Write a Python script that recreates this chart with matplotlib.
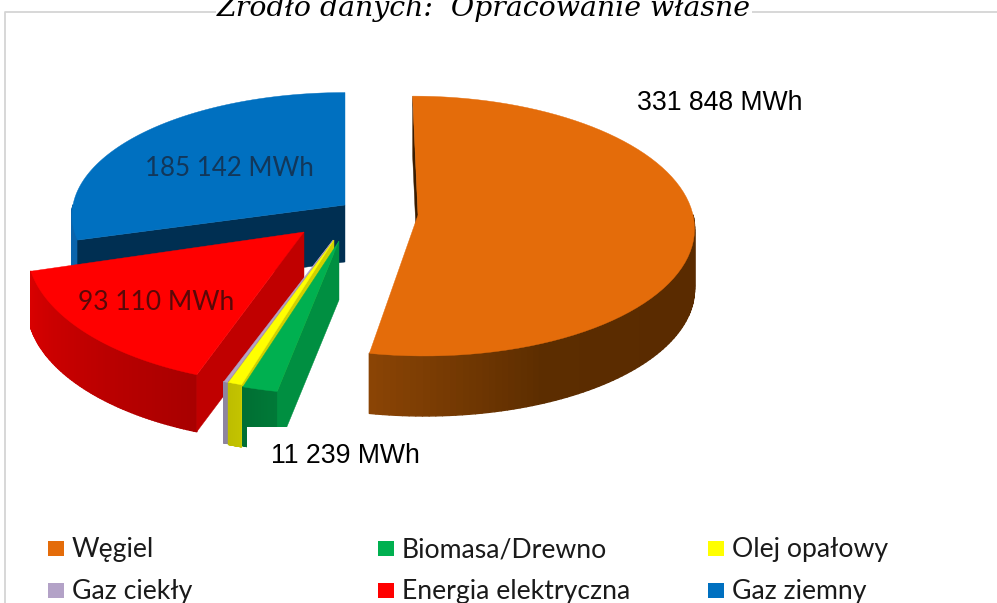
import numpy as np
import matplotlib
matplotlib.use('Agg')
import matplotlib.pyplot as plt
from matplotlib.colors import to_rgb
from matplotlib.patches import Polygon, Rectangle
from matplotlib.collections import PolyCollection

## data, clockwise from the top of the pie
names = ['Węgiel', 'Biomasa/Drewno', 'Olej opałowy', 'Gaz ciekły', 'Energia elektryczna', 'Gaz ziemny']
values = [331848, 11239, 4400, 1250, 93110, 185142]
title = 'Źródło danych:  Opracowanie własne'
value_labels = ['331 848 MWh', '11 239 MWh', '93 110 MWh', '185 142 MWh']

## styles
top_colors = ['#E46C0A', '#00B050', '#FFFF00', '#B3A2C7', '#FF0000', '#0070C0']
cut_colors = ['#3A1C00', '#008F41', '#D0D000', '#8E84A0', '#C00000', '#002F52']
wall_colors = [['#5A2B00', '#5A2B00', '#5C2D00', '#8A4405'], ['#007A38', '#006F33'], ['#C4C400', '#BEBE00'],
               ['#8E84A0', '#8E84A0'], ['#A80000', '#D80000'], ['#0A64AC', '#0A64AC']]
## apex x, apex y, radius x, radius y, perspective, lean, depth
shapes = [(418, 215, 275, 129, 0.085, 0.045, 60),
          (339, 241, 280, 135, 0.12, -0.025, 59),
          (334, 240, 280, 134, 0.12, 0, 62),
          (333, 240, 280, 134, 0.12, 0, 61),
          (304, 232, 275, 135, 0.12, 0, 57),
          (345, 205, 272, 122, 0.085, 0, 57)]
draw_order = [5, 4, 3, 2, 1, 0]


def project(theta_deg, shape):
    ## theta is clockwise from the top of the pie
    x0, y0, a, b, k, lean, depth = shape
    t = np.radians(theta_deg)
    u, v = np.sin(t), -np.cos(t)
    s = 1/(1 - k*v)
    y = y0 + b*v*s
    x = x0 + a*u*s + lean*(y - y0)
    return np.column_stack([x, y])
##END project


def draw_slice(ax, start, end, shape, top_c, cut_c, wall_c):
    x0, y0, a, b, k, lean, depth = shape
    apex = np.array([x0, y0])
    drop = np.array([0, depth])
    thetas = np.linspace(start, end, 80)
    arc = project(thetas, shape)

    ## outer wall, in thin strips so the shading can change along the arc
    wall_t = np.linspace(max(start, 90), min(end, 270), 80)
    if wall_t[-1] > wall_t[0]:
        pts = project(wall_t, shape)
        stops = np.array([to_rgb(c) for c in wall_c])
        pos = np.linspace(0, 1, len(wall_c))
        frac = np.linspace(0, 1, len(pts) - 1)
        cols = np.column_stack([np.interp(frac, pos, stops[:, i]) for i in range(3)])
        quads = [[pts[i], pts[i+1], pts[i+1] + drop, pts[i] + drop] for i in range(len(pts) - 1)]
        ax.add_collection(PolyCollection(quads, facecolors=cols, edgecolors=cols, linewidths=1.0, zorder=2))

    ## cut face along the starting edge
    edge = project(np.array([start]), shape)[0]
    ax.add_patch(Polygon([apex, edge, edge + drop, apex + drop], fc=cut_c, ec=cut_c, lw=0.3, zorder=2))

    ## top face
    ax.add_patch(Polygon(np.vstack([apex, arc]), fc=top_c, ec=top_c, lw=0.3, zorder=2))
##END draw_slice


def main():
    fig = plt.figure(figsize=(9.97, 6.03), dpi=100, facecolor='white')
    ax = fig.add_axes([0, 0, 1, 1])

    ## let pie work out the slice angles
    wedges, _ = ax.pie(values, startangle=90, counterclock=False, colors=top_colors)
    spans = [(90 - w.theta2, 90 - w.theta1) for w in wedges]
    for w in wedges:
        w.remove()
    ax.set_aspect('auto')
    ax.set_xlim(0, 997)
    ax.set_ylim(603, 0)
    ax.axis('off')

    ## frame of the chart area
    ax.plot([5, 5, 997], [603, 12, 12], color='#D4D4D4', lw=1.3, zorder=1)

    for i in draw_order:
        draw_slice(ax, spans[i][0], spans[i][1], shapes[i], top_colors[i], cut_colors[i], wall_colors[i])

    ## white label box cuts the bottom of the thin slices
    ax.add_patch(Rectangle((247, 427), 190, 50, fc='white', ec='none', zorder=3))

    ax.text(484, 16, title, family='DejaVu Serif', style='italic', fontsize=20.4, ha='center', va='baseline',
            zorder=5, bbox=dict(fc='white', ec='none', pad=1))

    ax.text(720, 103, value_labels[0], family='Liberation Sans', fontsize=19.2, ha='center', va='center', zorder=5)
    ax.text(345, 456, value_labels[1], family='Liberation Sans', fontsize=19.2, ha='center', va='center', zorder=5)
    ax.text(156, 303, value_labels[2], family='Lato', fontsize=19, color='#5A0808', ha='center', va='center', zorder=5)
    ax.text(229, 168, value_labels[3], family='Lato', fontsize=18.6, color='#12375A', ha='center', va='center', zorder=5)

    ## legend, filled row by row
    col_x = [48, 378, 708]
    row_y = [550, 592]
    for i in range(6):
        x, y = col_x[i % 3], row_y[i // 3]
        ax.add_patch(Rectangle((x, y - 9), 16, 15, fc=top_colors[i], ec='none', zorder=5))
        ax.text(x + 24, y, names[i], family='Lato', fontsize=19.2, color='#1A1A1A', ha='left', va='center', zorder=5)

    fig.savefig('out.png', dpi=100)
##END main


if __name__ == '__main__':
    main()
